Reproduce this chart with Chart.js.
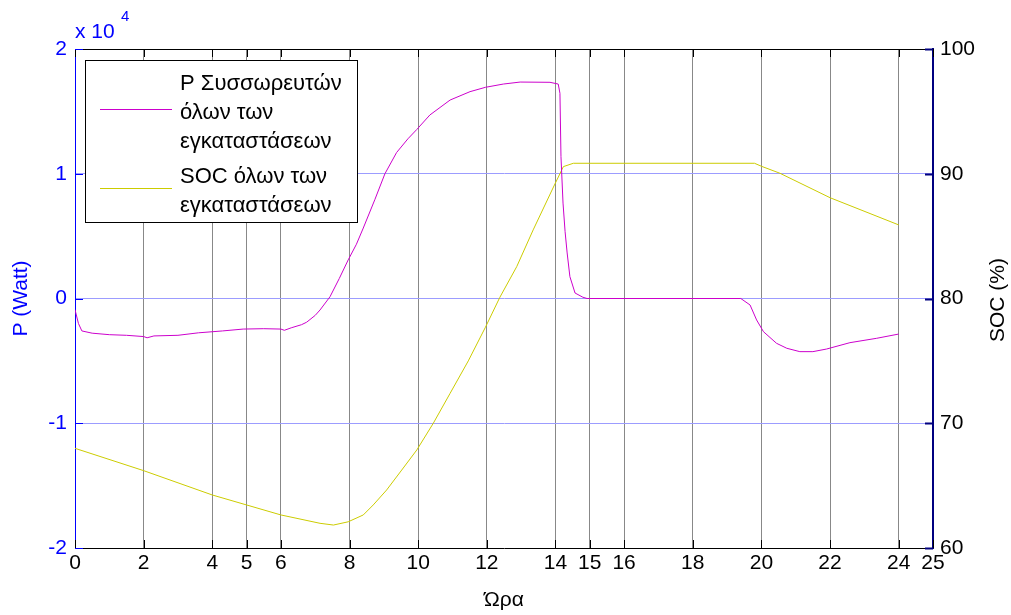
<!DOCTYPE html>
<html>
<head>
<meta charset="utf-8">
<script src="https://cdn.jsdelivr.net/npm/chart.js@4.4.0/dist/chart.umd.min.js"></script>
<style>
  html, body { margin: 0; padding: 0; background: #fff; }
</style>
</head>
<body>
<canvas id="chart" width="1011" height="615"></canvas>
<script>
// axis ticks
const hourTicks = [0, 2, 4, 5, 6, 8, 10, 12, 14, 15, 16, 18, 20, 22, 24, 25];
const powerTicks = [-20000, -10000, 0, 10000, 20000];
const socTicks = [60, 70, 80, 90, 100];

// P of all batteries (W)
const pHours = [0, 0.1, 0.2, 0.5, 1.0, 1.5, 2.0, 2.1, 2.3, 3.0, 3.6, 4.3, 4.9, 5.5, 6.0, 6.1, 6.3, 6.6, 6.75, 7.0, 7.14, 7.43, 7.7,
    7.96, 8.2, 8.4, 8.74, 9.03, 9.37, 9.7, 9.96, 10.34, 10.93, 11.51, 11.96, 12.48, 12.97, 13.84, 14.08, 14.13, 14.16, 14.22, 14.28,
    14.34, 14.42, 14.57, 14.8, 14.92, 19.4, 19.67, 19.86, 20.06, 20.44, 20.74, 21.12, 21.5, 21.9, 22.58, 23.36, 24];
const pWatts = [-900, -2000, -2600, -2780, -2900, -2950, -3050, -3150, -3000, -2950, -2750, -2600, -2450, -2420, -2450, -2550, -2350, -2100, -1900, -1350, -920, 140, 1600,
    3090, 4350, 5650, 7950, 10000, 11700, 12800, 13550, 14710, 15910, 16580, 16930, 17190, 17350, 17330, 17190, 16450, 11370, 7650, 5360,
    3650, 1750, 440, 100, 0, 0, -520, -1720, -2660, -3590, -3990, -4260, -4260, -4050, -3540, -3190, -2850];

// SOC of all installations (%)
const socHours = [0, 2, 4, 6, 7.14, 7.53, 7.96, 8.4, 8.69, 9.08, 9.52, 9.96, 10.44, 10.93, 11.46, 11.96, 12.38, 12.87, 13.35, 13.97, 14.23, 14.52,
    19.8, 20.0, 20.54, 22.0, 24];
const socPct = [67.99, 66.2, 64.25, 62.65, 61.98, 61.84, 62.1, 62.65, 63.45, 64.65, 66.25, 67.86, 70.0, 72.4, 75.0, 77.7, 80.1, 82.55, 85.5, 89.1, 90.57, 90.84,
    90.84, 90.6, 90.04, 88.08, 85.9];

const legendLabels = [
    ['P Συσσωρευτών', 'όλων των', 'εγκαταστάσεων'],
    ['SOC όλων των', 'εγκαταστάσεων']
];

const FONT = 'Arial, "Liberation Sans", sans-serif';
const P_COLOR = '#cc00cc';
const SOC_COLOR = '#cccc00';

function fixTicks(list) {
    return scale => { scale.ticks = list.map(v => ({ value: v })); };
}

const framePlugin = {
    id: 'frame',
    afterDraw(chart) {
        const ctx = chart.ctx;
        const a = chart.chartArea;
        const sx = chart.scales.x, sy = chart.scales.y, sy1 = chart.scales.y1;
        ctx.save();
        ctx.lineWidth = 1;

        // top border
        ctx.strokeStyle = '#000';
        ctx.beginPath();
        ctx.moveTo(a.left, a.top + 0.5);
        ctx.lineTo(a.right, a.top + 0.5);
        ctx.stroke();

        // inward tick marks on x
        ctx.beginPath();
        hourTicks.forEach(h => {
            const px = Math.round(sx.getPixelForValue(h)) + 0.5;
            ctx.moveTo(px, a.bottom);
            ctx.lineTo(px, a.bottom - 8);
            ctx.moveTo(px, a.top);
            ctx.lineTo(px, a.top + 8);
        });
        ctx.stroke();

        // inward tick marks on y (blue) and y1 (navy)
        ctx.strokeStyle = '#0000ff';
        ctx.beginPath();
        powerTicks.forEach(v => {
            const py = Math.round(sy.getPixelForValue(v)) + 0.5;
            ctx.moveTo(a.left, py);
            ctx.lineTo(a.left + 8, py);
        });
        ctx.stroke();
        ctx.strokeStyle = '#000080';
        ctx.lineWidth = 2;
        ctx.beginPath();
        socTicks.forEach(v => {
            const py = Math.round(sy1.getPixelForValue(v)) + 0.5;
            ctx.moveTo(a.right, py);
            ctx.lineTo(a.right - 8, py);
        });
        ctx.stroke();
        ctx.lineWidth = 1;

        // exponent label
        ctx.fillStyle = '#0000ff';
        ctx.textBaseline = 'middle';
        ctx.textAlign = 'left';
        ctx.font = '21px ' + FONT;
        ctx.fillText('x 10', 75, 32);
        ctx.font = '15px ' + FONT;
        ctx.fillText('4', 121, 17);

        // right axis title, reads upward
        ctx.save();
        ctx.translate(998, 300);
        ctx.rotate(-Math.PI / 2);
        ctx.fillStyle = '#000';
        ctx.textAlign = 'center';
        ctx.font = '21px ' + FONT;
        ctx.fillText('SOC (%)', 0, 0);
        ctx.restore();

        // legend box
        ctx.fillStyle = '#fff';
        ctx.fillRect(85, 60, 273, 163);
        ctx.strokeStyle = '#000';
        ctx.strokeRect(85.5, 60.5, 272, 162);
        const lineY = [109, 188];
        const textY = [[84, 113, 142], [177, 206]];
        [P_COLOR, SOC_COLOR].forEach((c, i) => {
            ctx.strokeStyle = c;
            ctx.beginPath();
            ctx.moveTo(100, lineY[i] + 0.5);
            ctx.lineTo(172, lineY[i] + 0.5);
            ctx.stroke();
            ctx.fillStyle = '#000';
            ctx.font = '22px ' + FONT;
            ctx.textAlign = 'left';
            legendLabels[i].forEach((t, j) => ctx.fillText(t, 180, textY[i][j]));
        });
        ctx.restore();
    }
};

new Chart(document.getElementById('chart'), {
    type: 'line',
    data: {
        datasets: [
            {
                label: 'P Συσσωρευτών όλων των εγκαταστάσεων',
                data: pHours.map((h, i) => ({ x: h, y: pWatts[i] })),
                yAxisID: 'y',
                borderColor: P_COLOR,
                borderWidth: 1,
                pointRadius: 0,
                tension: 0
            },
            {
                label: 'SOC όλων των εγκαταστάσεων',
                data: socHours.map((h, i) => ({ x: h, y: socPct[i] })),
                yAxisID: 'y1',
                borderColor: SOC_COLOR,
                borderWidth: 1,
                pointRadius: 0,
                tension: 0
            }
        ]
    },
    options: {
        responsive: false,
        animation: false,
        devicePixelRatio: 1,
        layout: { padding: { top: 49, left: 0, right: 0, bottom: 0 } },
        plugins: { legend: { display: false }, tooltip: { enabled: false } },
        scales: {
            x: {
                type: 'linear',
                min: 0, max: 25,
                afterBuildTicks: fixTicks(hourTicks),
                afterFit: s => { s.height = 67; },
                ticks: { color: '#000', font: { family: FONT, size: 21 }, padding: 3, autoSkip: false, maxRotation: 0 },
                grid: {
                    drawTicks: false,
                    color: c => (c.tick && (c.tick.value === 0 || c.tick.value === 25)) ? 'rgba(0,0,0,0)' : '#888888'
                },
                border: { color: '#000', width: 1 },
                title: { display: true, text: 'Ώρα', color: '#000', font: { family: FONT, size: 21 }, padding: { top: 0, bottom: 2 } }
            },
            y: {
                position: 'left',
                min: -20000, max: 20000,
                afterBuildTicks: fixTicks(powerTicks),
                afterFit: s => { s.width = 75; },
                ticks: { color: '#0000ff', font: { family: FONT, size: 21 }, padding: 8, callback: v => String(v / 10000) },
                grid: {
                    drawTicks: false,
                    color: c => (c.tick && Math.abs(c.tick.value) === 20000) ? 'rgba(0,0,0,0)' : '#9c9cff'
                },
                border: { color: '#0000ff', width: 1 },
                title: { display: true, text: 'P (Watt)', color: '#0000ff', font: { family: FONT, size: 21 }, padding: { top: 9, bottom: 0 } }
            },
            y1: {
                position: 'right',
                min: 60, max: 100,
                afterBuildTicks: fixTicks(socTicks),
                afterFit: s => { s.width = 78; },
                ticks: { color: '#000', font: { family: FONT, size: 21 }, padding: 7 },
                grid: { display: false, drawTicks: false },
                border: { color: '#000080', width: 2 }
            }
        }
    },
    plugins: [framePlugin]
});
</script>
</body>
</html>
